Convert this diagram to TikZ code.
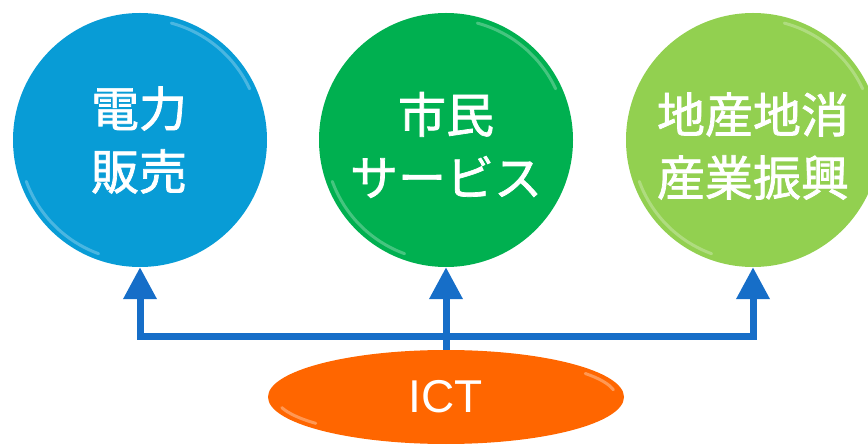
\documentclass[tikz,border=0pt]{standalone}
\usepackage{fontspec}
\setmainfont{Liberation Sans}
\newfontfamily\jpfont[FakeBold=1.5]{Noto Sans CJK JP}
\usetikzlibrary{shapes.geometric,arrows.meta}
\definecolor{cblue}{RGB}{8,156,214}
\definecolor{cgreen}{RGB}{0,176,80}
\definecolor{clime}{RGB}{146,208,80}
\definecolor{corange}{RGB}{255,102,0}
\definecolor{carrow}{RGB}{22,110,200}
\tikzset{
  bubble/.style={circle, minimum size=254pt, inner sep=0pt},
  rim/.style={line width=3pt, opacity=0.45, line cap=round},
  jptext/.style={text=white, align=center, font=\jpfont\fontsize{48}{63}\selectfont, inner sep=0pt},
  conn/.style={draw=carrow, line width=7pt, line join=miter},
  arr/.style={conn, -{Triangle[length=32pt,width=32pt]}},
}
\begin{document}
\begin{tikzpicture}[x=1pt,y=-1pt]
\useasboundingbox (0,0) rectangle (868,446);
\clip (0,0) rectangle (868,446);
% circles
\node[bubble, fill=cblue] (a) at (140,140) {};
\node[bubble, fill=cgreen] (b) at (446,140) {};
\node[bubble, fill=clime] (c) at (753,140) {};
% rims (top-right and bottom-left highlights)
\foreach \cx/\col in {140/cblue, 446/cgreen, 753/clime}{
  \draw[rim, white!60!\col] (\cx,140) ++(-25:121) arc[start angle=-25, end angle=-75, radius=121];
  \draw[rim, white!60!\col] (\cx,140) ++(110:121) arc[start angle=110, end angle=160, radius=121];
}
% labels
\node[jptext] (ta) at (139,140) {電力\\販売};
\node[jptext] (tb) at (446,145) {市民\\サービス};
\node[jptext] (tc) at (753,146) {地産地消\\産業振興};
% ICT ellipse
\node[ellipse, fill=corange, minimum width=356pt, minimum height=94pt, inner sep=0pt,
      text=white, font=\fontsize{46}{50}\selectfont] (ict) at (446,397) {ICT};
\draw[white!55!corange, line width=3pt, opacity=0.6, line cap=round]
  (446,397) ++(165:170 and 41) arc[start angle=165, end angle=140, x radius=170, y radius=41];
\draw[white!55!corange, line width=3pt, opacity=0.6, line cap=round]
  (446,397) ++(-10:170 and 41) arc[start angle=-10, end angle=-35, x radius=170, y radius=41];
% connectors
\coordinate (j) at (446,336.5);
\draw[conn] (ict.north) -- (j);
\draw[arr] (j) -| (a.south);
\draw[arr] (j) -- (b.south);
\draw[arr] (j) -| (c.south);
\end{tikzpicture}
\end{document}
